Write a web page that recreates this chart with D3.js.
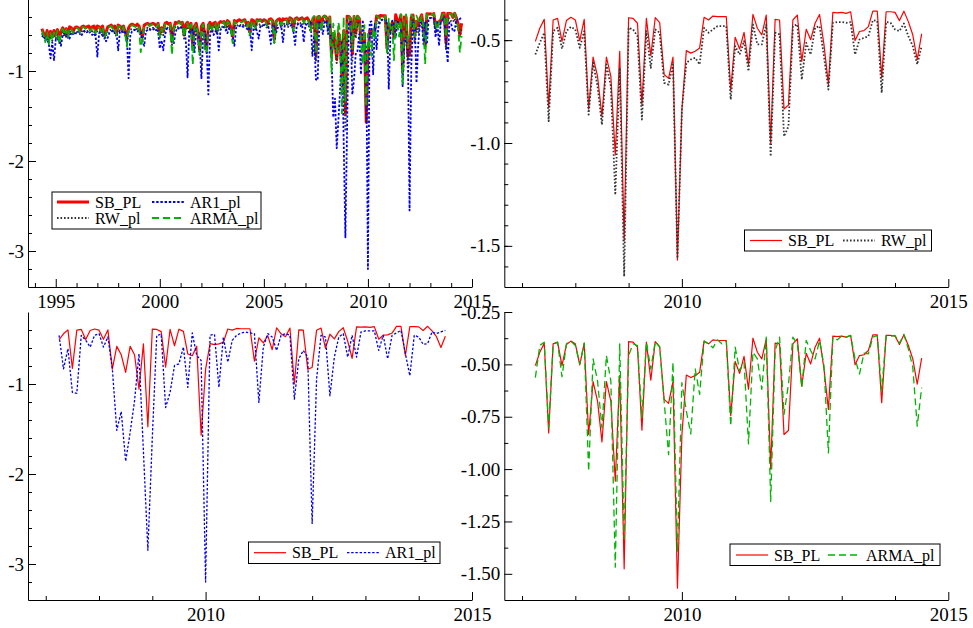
<!DOCTYPE html>
<html>
<head>
<meta charset="utf-8">
<script src="https://cdn.jsdelivr.net/npm/d3@7"></script>
<style>
  body { margin: 0; background: #fff; }
  text { font-family: "Liberation Serif", "Times New Roman", serif; fill: #000; }
</style>
</head>
<body>
<svg id="chart" width="973" height="628"></svg>
<script>
// monthly observations, first one is May 1994
var startYear = 1994, startMonth = 5;

// May 1994 - Mar 2007 (only visible in the full-sample panel)
var sbEarly = [
  -0.53,-0.58,-0.63,-0.55,-0.64,-0.56,-0.62,-0.55,
  -0.60,-0.54,-0.65,-0.56,-0.52,-0.58,-0.53,-0.59,-0.51,-0.52,-0.56,-0.52,
  -0.51,-0.52,-0.55,-0.51,-0.50,-0.52,-0.51,-0.50,-0.54,-0.51,-0.50,-0.56,
  -0.50,-0.51,-0.54,-0.50,-0.60,-0.57,-0.51,-0.50,-0.49,-0.52,-0.50,-0.58,
  -0.49,-0.50,-0.53,-0.50,-0.56,-0.63,-0.52,-0.49,-0.48,-0.49,-0.50,-0.48,
  -0.50,-0.57,-0.62,-0.49,-0.48,-0.47,-0.49,-0.48,-0.47,-0.48,-0.50,-0.47,
  -0.59,-0.52,-0.56,-0.47,-0.46,-0.48,-0.47,-0.67,-0.52,-0.46,-0.47,-0.45,
  -0.47,-0.46,-0.60,-0.48,-0.46,-0.52,-0.47,-0.73,-0.50,-0.47,-0.58,-0.77,
  -0.50,-0.47,-0.62,-0.75,-0.49,-0.46,-0.52,-0.47,-0.46,-0.55,-0.47,-0.45,
  -0.46,-0.45,-0.50,-0.44,-0.46,-0.52,-0.61,-0.44,-0.46,-0.44,-0.43,-0.45,
  -0.44,-0.43,-0.48,-0.46,-0.57,-0.43,-0.44,-0.50,-0.43,-0.44,-0.43,-0.45,
  -0.43,-0.44,-0.48,-0.43,-0.42,-0.44,-0.65,-0.45,-0.43,-0.42,-0.47,-0.42,
  -0.43,-0.42,-0.46,-0.41,-0.42,-0.52,-0.42,-0.41,-0.43,-0.42,-0.41,-0.44,
  -0.42,-0.41,-0.44
];
var rwEarly = [
  -0.58,-0.62,-0.66,-0.60,-0.68,-0.61,-0.66,-0.60,
  -0.64,-0.59,-0.69,-0.61,-0.57,-0.62,-0.58,-0.63,-0.56,-0.57,-0.60,-0.57,
  -0.56,-0.57,-0.59,-0.56,-0.55,-0.57,-0.56,-0.55,-0.58,-0.56,-0.55,-0.60,
  -0.55,-0.56,-0.58,-0.55,-0.64,-0.61,-0.56,-0.55,-0.54,-0.56,-0.55,-0.62,
  -0.54,-0.55,-0.57,-0.55,-0.60,-0.68,-0.57,-0.54,-0.53,-0.54,-0.55,-0.53,
  -0.55,-0.61,-0.66,-0.54,-0.53,-0.52,-0.54,-0.53,-0.52,-0.53,-0.55,-0.52,
  -0.63,-0.56,-0.60,-0.52,-0.51,-0.53,-0.52,-0.71,-0.57,-0.51,-0.52,-0.50,
  -0.52,-0.51,-0.64,-0.53,-0.51,-0.57,-0.52,-0.78,-0.55,-0.52,-0.63,-0.82,
  -0.56,-0.52,-0.67,-0.80,-0.54,-0.51,-0.57,-0.52,-0.51,-0.60,-0.52,-0.50,
  -0.51,-0.50,-0.55,-0.49,-0.51,-0.57,-0.66,-0.49,-0.51,-0.49,-0.48,-0.50,
  -0.49,-0.48,-0.53,-0.51,-0.62,-0.48,-0.49,-0.55,-0.48,-0.49,-0.48,-0.50,
  -0.48,-0.49,-0.53,-0.48,-0.47,-0.49,-0.70,-0.50,-0.48,-0.47,-0.52,-0.47,
  -0.48,-0.47,-0.51,-0.46,-0.47,-0.57,-0.47,-0.46,-0.48,-0.47,-0.46,-0.49,
  -0.47,-0.46,-0.49
];
var ar1Early = [
  -0.62,-0.60,-0.66,-0.64,-0.70,-0.86,-0.68,-0.88,
  -0.65,-0.66,-0.62,-0.72,-0.60,-0.58,-0.62,-0.59,-0.64,-0.57,-0.58,-0.60,
  -0.57,-0.56,-0.58,-0.60,-0.56,-0.55,-0.57,-0.56,-0.55,-0.60,-0.58,-0.62,
  -0.84,-0.58,-0.57,-0.61,-0.58,-0.67,-0.63,-0.57,-0.56,-0.55,-0.58,-0.57,
  -0.77,-0.56,-0.55,-0.58,-0.57,-0.62,-1.08,-0.60,-0.56,-0.55,-0.54,-0.56,
  -0.55,-0.56,-0.67,-0.72,-0.56,-0.54,-0.53,-0.55,-0.54,-0.53,-0.54,-0.56,
  -0.75,-0.66,-0.77,-0.60,-0.53,-0.52,-0.54,-0.56,-0.70,-0.58,-0.52,-0.53,
  -0.51,-0.52,-0.53,-0.66,-1.07,-0.55,-0.58,-0.54,-0.80,-0.56,-0.55,-0.68,
  -1.08,-0.60,-0.56,-0.72,-1.26,-0.58,-0.54,-0.60,-0.56,-0.55,-0.77,-0.54,
  -0.52,-0.51,-0.52,-0.58,-0.52,-0.54,-0.60,-0.72,-0.52,-0.51,-0.50,-0.49,
  -0.51,-0.50,-0.49,-0.55,-0.53,-0.77,-0.52,-0.50,-0.56,-0.64,-0.50,-0.49,
  -0.49,-0.50,-0.48,-0.54,-0.70,-0.50,-0.49,-0.58,-0.52,-0.50,-0.49,-0.68,
  -0.50,-0.50,-0.48,-0.50,-0.49,-0.55,-0.71,-0.49,-0.48,-0.50,-0.48,-0.68,
  -0.49,-0.48,-0.50
];
var armaEarly = [
  -0.55,-0.60,-0.68,-0.57,-0.70,-0.58,-0.66,-0.57,
  -0.62,-0.55,-0.70,-0.57,-0.53,-0.60,-0.54,-0.62,-0.52,-0.53,-0.58,-0.53,
  -0.52,-0.53,-0.57,-0.52,-0.51,-0.53,-0.52,-0.51,-0.56,-0.52,-0.51,-0.58,
  -0.51,-0.52,-0.56,-0.51,-0.63,-0.59,-0.52,-0.51,-0.50,-0.53,-0.51,-0.60,
  -0.50,-0.51,-0.55,-0.51,-0.58,-0.73,-0.54,-0.50,-0.49,-0.50,-0.51,-0.49,
  -0.51,-0.79,-0.64,-0.50,-0.49,-0.48,-0.50,-0.49,-0.48,-0.49,-0.51,-0.48,
  -0.62,-0.53,-0.58,-0.48,-0.47,-0.49,-0.48,-0.82,-0.54,-0.47,-0.48,-0.46,
  -0.48,-0.47,-0.62,-0.49,-0.47,-0.54,-0.48,-0.93,-0.52,-0.48,-0.60,-0.82,
  -0.52,-0.48,-0.80,-0.78,-0.50,-0.47,-0.54,-0.48,-0.47,-0.57,-0.48,-0.46,
  -0.47,-0.46,-0.52,-0.45,-0.47,-0.54,-0.69,-0.45,-0.47,-0.45,-0.44,-0.46,
  -0.45,-0.44,-0.50,-0.47,-0.60,-0.44,-0.45,-0.52,-0.44,-0.45,-0.44,-0.46,
  -0.44,-0.45,-0.50,-0.44,-0.43,-0.45,-0.69,-0.46,-0.44,-0.43,-0.49,-0.43,
  -0.44,-0.43,-0.48,-0.42,-0.43,-0.55,-0.43,-0.42,-0.44,-0.43,-0.42,-0.46,
  -0.43,-0.42,-0.46
];

// Apr 2007 - Jul 2014 (shown in all four panels)
var sbRecent = [
  -0.506,-0.442,-0.399,-0.827,-0.402,-0.394,-0.506,-0.405,-0.389,-0.402,
  -0.503,-0.399,-0.835,-0.582,-0.675,-0.870,-0.582,-0.675,-1.058,-0.554,
  -1.476,-0.391,-0.394,-0.418,-0.814,-0.394,-0.575,-0.391,-0.415,-0.667,
  -0.686,-0.582,-1.569,-0.838,-0.551,-0.563,-0.554,-0.538,-0.389,-0.402,
  -0.383,-0.386,-0.386,-0.386,-0.745,-0.486,-0.543,-0.462,-0.619,-0.375,
  -0.442,-0.474,-0.378,-1.000,-0.399,-0.402,-0.835,-0.816,-0.402,-0.378,
  -0.603,-0.447,-0.498,-0.418,-0.375,-0.522,-0.715,-0.365,-0.367,-0.365,
  -0.370,-0.362,-0.502,-0.458,-0.454,-0.434,-0.359,-0.359,-0.683,-0.362,
  -0.362,-0.365,-0.405,-0.359,-0.410,-0.474,-0.595,-0.470
];
var rwRecent = [
  -0.570,-0.513,-0.464,-0.894,-0.456,-0.440,-0.542,-0.456,-0.435,-0.448,
  -0.537,-0.456,-0.862,-0.610,-0.724,-0.911,-0.618,-0.724,-1.252,-0.635,
  -1.649,-0.440,-0.448,-0.481,-0.886,-0.456,-0.635,-0.448,-0.464,-0.708,
  -0.716,-0.618,-1.560,-0.838,-0.610,-0.594,-0.586,-0.618,-0.440,-0.464,
  -0.448,-0.432,-0.432,-0.432,-0.789,-0.529,-0.570,-0.505,-0.651,-0.424,
  -0.521,-0.521,-0.424,-1.065,-0.464,-0.472,-0.968,-0.919,-0.432,-0.424,
  -0.692,-0.513,-0.570,-0.440,-0.432,-0.578,-0.740,-0.416,-0.412,-0.412,
  -0.416,-0.412,-0.570,-0.497,-0.489,-0.481,-0.403,-0.407,-0.756,-0.412,
  -0.416,-0.448,-0.456,-0.419,-0.481,-0.529,-0.618,-0.529
];
var ar1Recent = [
  -0.459,-0.832,-0.608,-1.093,-1.104,-0.459,-0.515,-0.590,-0.459,-0.440,
  -0.590,-0.478,-0.832,-1.515,-1.306,-1.858,-1.541,-1.187,-0.664,-1.750,
  -2.847,-1.597,-0.459,-0.448,-1.261,-1.093,-0.795,-0.776,-0.590,-1.037,
  -0.433,-0.683,-0.739,-3.201,-0.459,-0.448,-1.037,-0.478,-0.757,-0.515,
  -0.459,-0.433,-0.422,-0.433,-0.440,-1.205,-0.590,-0.440,-0.478,-0.627,
  -0.459,-0.440,-0.459,-1.168,-0.720,-0.627,-0.701,-2.549,-0.944,-0.459,
  -0.478,-1.131,-0.701,-0.478,-0.440,-0.701,-0.459,-0.701,-0.422,-0.410,
  -0.410,-0.410,-0.627,-0.459,-0.720,-0.459,-0.433,-0.403,-0.664,-0.907,
  -0.459,-0.478,-0.560,-0.552,-0.422,-0.440,-0.422,-0.403
];
var armaRecent = [
  -0.563,-0.410,-0.394,-0.803,-0.405,-0.394,-0.559,-0.402,-0.389,-0.410,
  -0.498,-0.399,-1.011,-0.474,-0.579,-0.803,-0.458,-0.579,-1.468,-0.402,
  -1.332,-0.458,-0.402,-0.410,-0.753,-0.394,-0.522,-0.391,-0.418,-0.675,
  -0.931,-0.490,-1.396,-0.587,-0.723,-0.832,-0.522,-0.643,-0.389,-0.402,
  -0.421,-0.383,-0.402,-0.389,-0.795,-0.418,-0.530,-0.490,-0.880,-0.442,
  -0.474,-0.619,-0.370,-1.155,-0.434,-0.370,-0.739,-0.595,-0.370,-0.402,
  -0.611,-0.386,-0.434,-0.474,-0.386,-0.506,-0.923,-0.370,-0.383,-0.365,
  -0.370,-0.362,-0.474,-0.546,-0.447,-0.450,-0.370,-0.362,-0.627,-0.362,
  -0.365,-0.362,-0.399,-0.357,-0.426,-0.514,-0.795,-0.611
];

var sbPL = sbEarly.concat(sbRecent);
var rwPL = rwEarly.concat(rwRecent);
var ar1PL = ar1Early.concat(ar1Recent);
var armaPL = armaEarly.concat(armaRecent);
var recentStart = sbEarly.length;

// tick values
var fullYearTicks = [1995, 2000, 2005, 2010, 2015];
var subYearTicks = [2010, 2015];
var bigYTicks = [-1, -2, -3];
var rwYTicks = [-0.5, -1.0, -1.5];
var armaYTicks = [-0.25, -0.50, -0.75, -1.00, -1.25, -1.50];

var dates = sbPL.map(function (d, i) { return startYear + (startMonth - 1 + i) / 12; });

var series = {
  SB:   { name: "SB_PL",   values: sbPL,   color: "#ff0000", dash: null,      w: 1.2, wThick: 3.0 },
  RW:   { name: "RW_pl",   values: rwPL,   color: "#333333", dash: "1.6,1.9", w: 1.8, wThick: 2.0 },
  AR1:  { name: "AR1_pl",  values: ar1PL,  color: "#0000ee", dash: "2.4,1.8", w: 1.3, wThick: 1.8 },
  ARMA: { name: "ARMA_pl", values: armaPL, color: "#00b400", dash: "7,4",     w: 1.3, wThick: 1.8 }
};

var panels = [
  { left: 28, top: -1, x: [1993.667, 2015], y: [-3.4, -0.2], xTicks: fullYearTicks, xMinor: d3.range(1994, 2015),
    yTicks: bigYTicks, yMinor: d3.range(-0.4, -3.4, -0.2), yFmt: function (d) { return String(d); },
    keys: ["SB", "RW", "AR1", "ARMA"], from: 0, thick: true,
    legend: { x: 52, y: 192, w: 209, h: 37, items: [
      { key: "SB", lx: 57, ly: 202 }, { key: "AR1", lx: 152, ly: 202 },
      { key: "RW", lx: 57, ly: 218 }, { key: "ARMA", lx: 152, ly: 218 } ] } },
  { left: 504.3, top: -1, x: [2006.667, 2015], y: [-1.7, -0.3], xTicks: subYearTicks, xMinor: d3.range(2007, 2015),
    yTicks: rwYTicks, yMinor: d3.range(-0.4, -1.7, -0.1), yFmt: function (d) { return d.toFixed(1); },
    keys: ["SB", "RW"], from: recentStart, thick: false,
    legend: { x: 744.5, y: 230, w: 187, h: 21, items: [
      { key: "SB", lx: 750, ly: 240.5 }, { key: "RW", lx: 843, ly: 240.5 } ] } },
  { left: 28, top: 312, x: [2006.667, 2015], y: [-3.4, -0.2], xTicks: subYearTicks, xMinor: d3.range(2007, 2015),
    yTicks: bigYTicks, yMinor: d3.range(-0.4, -3.4, -0.2), yFmt: function (d) { return String(d); },
    keys: ["SB", "AR1"], from: recentStart, thick: false,
    legend: { x: 248.5, y: 542, w: 191.5, h: 21.5, items: [
      { key: "SB", lx: 254, ly: 552.7 }, { key: "AR1", lx: 347, ly: 552.7 } ] } },
  { left: 504.3, top: 312, x: [2006.667, 2015], y: [-1.625, -0.25], xTicks: subYearTicks, xMinor: d3.range(2007, 2015),
    yTicks: armaYTicks, yMinor: d3.range(-0.375, -1.625, -0.25), yFmt: function (d) { return d.toFixed(2); },
    keys: ["SB", "ARMA"], from: recentStart, thick: false,
    legend: { x: 730, y: 544, w: 210, h: 21.5, items: [
      { key: "SB", lx: 736, ly: 555 }, { key: "ARMA", lx: 828, ly: 555 } ] } }
];

var W = 444, H = 288;
var svg = d3.select("#chart");

panels.forEach(function (p) {
  var g = svg.append("g").attr("transform", "translate(" + p.left + "," + p.top + ")");
  var x = d3.scaleLinear().domain(p.x).range([0, W]);
  var y = d3.scaleLinear().domain(p.y).range([H, 0]);

  // minor ticks
  g.append("g").attr("transform", "translate(0," + H + ")")
    .call(d3.axisBottom(x).tickValues(p.xMinor.filter(function (v) { return p.xTicks.indexOf(v) < 0; }))
      .tickSize(-4).tickSizeOuter(0).tickFormat(""))
    .call(function (a) { a.select(".domain").remove(); });
  g.append("g")
    .call(d3.axisLeft(y).tickValues(p.yMinor).tickSize(-4).tickSizeOuter(0).tickFormat(""))
    .call(function (a) { a.select(".domain").remove(); });

  // major ticks + labels
  var xa = g.append("g").attr("transform", "translate(0," + H + ")")
    .call(d3.axisBottom(x).tickValues(p.xTicks).tickSize(-8).tickSizeOuter(0).tickPadding(8)
      .tickFormat(function (d) { return String(d); }));
  var ya = g.append("g")
    .call(d3.axisLeft(y).tickValues(p.yTicks).tickSize(-8).tickSizeOuter(0).tickPadding(4).tickFormat(p.yFmt));
  [xa, ya].forEach(function (a) {
    a.selectAll("text").attr("font-size", 19).attr("font-family", "Liberation Serif").attr("fill", "#000");
    a.select(".domain").attr("stroke", "#000");
  });
  g.selectAll(".tick line").attr("stroke", "#000");

  // series
  var pts = d3.range(p.from, dates.length);
  p.keys.forEach(function (k) {
    var s = series[k];
    var line = d3.line()
      .x(function (i) { return x(dates[i]); })
      .y(function (i) { return y(s.values[i]); });
    g.append("path").datum(pts)
      .attr("d", line)
      .attr("fill", "none")
      .attr("stroke", s.color)
      .attr("stroke-width", p.thick ? s.wThick : s.w)
      .attr("stroke-dasharray", s.dash)
      .attr("stroke-linejoin", "round");
  });

  // legend
  var L = p.legend;
  svg.append("rect").attr("x", L.x).attr("y", L.y).attr("width", L.w).attr("height", L.h)
    .attr("fill", "#fff").attr("stroke", "#000").attr("stroke-width", 1);
  L.items.forEach(function (it) {
    var s = series[it.key];
    svg.append("line").attr("x1", it.lx).attr("x2", it.lx + 32).attr("y1", it.ly).attr("y2", it.ly)
      .attr("stroke", s.color).attr("stroke-width", p.thick ? s.wThick : s.w)
      .attr("stroke-dasharray", s.dash);
    svg.append("text").attr("x", it.lx + 38).attr("y", it.ly).attr("dy", "0.35em")
      .attr("font-size", 16).text(s.name);
  });
});
</script>
</body>
</html>
